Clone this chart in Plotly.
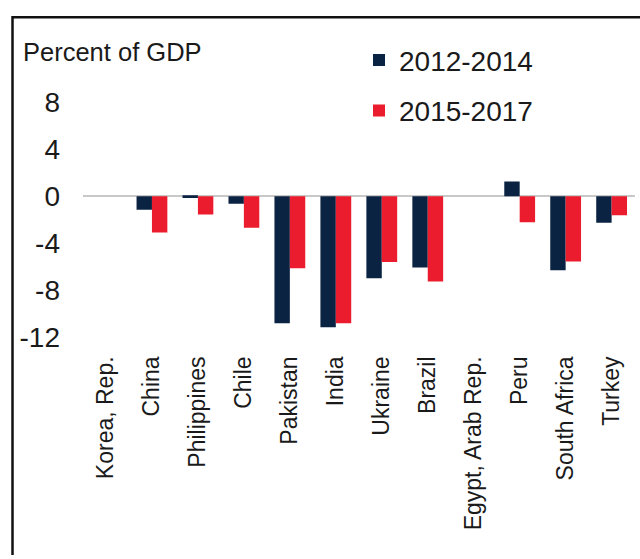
import plotly.graph_objects as go

countries = ["Korea, Rep.", "China", "Philippines", "Chile", "Pakistan", "India",
             "Ukraine", "Brazil", "Egypt, Arab Rep.", "Peru", "South Africa", "Turkey"]
s2012_2014 = [None, -1.15, -0.15, -0.64, -10.83, -11.16, -6.98, -6.08, None, 1.26, -6.31, -2.26]
s2015_2017 = [None, -3.10, -1.56, -2.68, -6.14, -10.83, -5.61, -7.26, None, -2.23, -5.56, -1.62]
y_ticks = [8, 4, 0, -4, -8, -12]

NAVY = "#0b2343"
RED = "#eb1c2d"
FONT = "Liberation Sans, Arial, sans-serif"
TXT = "#1a1a1a"

W, H = 640, 559

fig = go.Figure()
fig.add_trace(go.Bar(x=countries, y=s2012_2014, name="2012-2014",
                     marker=dict(color=NAVY, line=dict(width=0)), legendgroup="a"))
fig.add_trace(go.Bar(x=countries, y=s2015_2017, name="2015-2017",
                     marker=dict(color=RED, line=dict(width=0)), legendgroup="b"))

zero_px = 192.3
ppu = 12.0
ymin, ymax = -13.0, 8.6
top_px = zero_px - ymax * ppu
bot_px = zero_px - ymin * ppu

fig.update_layout(
    width=W, height=H,
    margin=dict(l=0, r=0, t=0, b=0),
    paper_bgcolor="white", plot_bgcolor="white",
    barmode="group", bargap=0.33, bargroupgap=0,
    showlegend=True,
    legend=dict(x=359 / W, y=1 - 28 / H, xanchor="left", yanchor="top",
                bgcolor="rgba(0,0,0,0)", font=dict(family=FONT, size=28, color=TXT),
                traceorder="grouped", tracegroupgap=11, itemwidth=30),
    xaxis=dict(domain=[83 / W, 634.6 / W], showgrid=False, showline=False, zeroline=False,
               tickangle=-90, tickfont=dict(family=FONT, size=23, color=TXT),
               ticks="", ticklabelstandoff=2, categoryorder="array", categoryarray=countries),
    yaxis=dict(domain=[1 - bot_px / H, 1 - top_px / H], range=[ymin, ymax],
               showgrid=False, showline=False, zeroline=True, zerolinecolor="#c8c8c8",
               zerolinewidth=1.5, tickvals=y_ticks, ticktext=[str(v) for v in y_ticks],
               tickfont=dict(family=FONT, size=28, color=TXT), ticks="",
               ticklabelstandoff=22),
    annotations=[dict(text="Percent of GDP", xref="paper", yref="paper", x=21 / W, y=1 - 45 / H,
                      xanchor="left", yanchor="middle", showarrow=False,
                      font=dict(family=FONT, size=25.5, color=TXT))],
    shapes=[dict(type="path", xref="paper", yref="paper",
                 path=f"M {12.5/W},0 L {12.5/W},{1-9.5/H} L 1,{1-9.5/H}",
                 line=dict(color="#111111", width=2.5))],
)

post = ("document.body.style.margin='0px';"
        "var gd=document.getElementById('{plot_id}');"
        "gd.style.position='absolute';gd.style.top='0px';gd.style.left='0px';")
fig.write_html("out.html", post_script=post, config={"displayModeBar": False})
